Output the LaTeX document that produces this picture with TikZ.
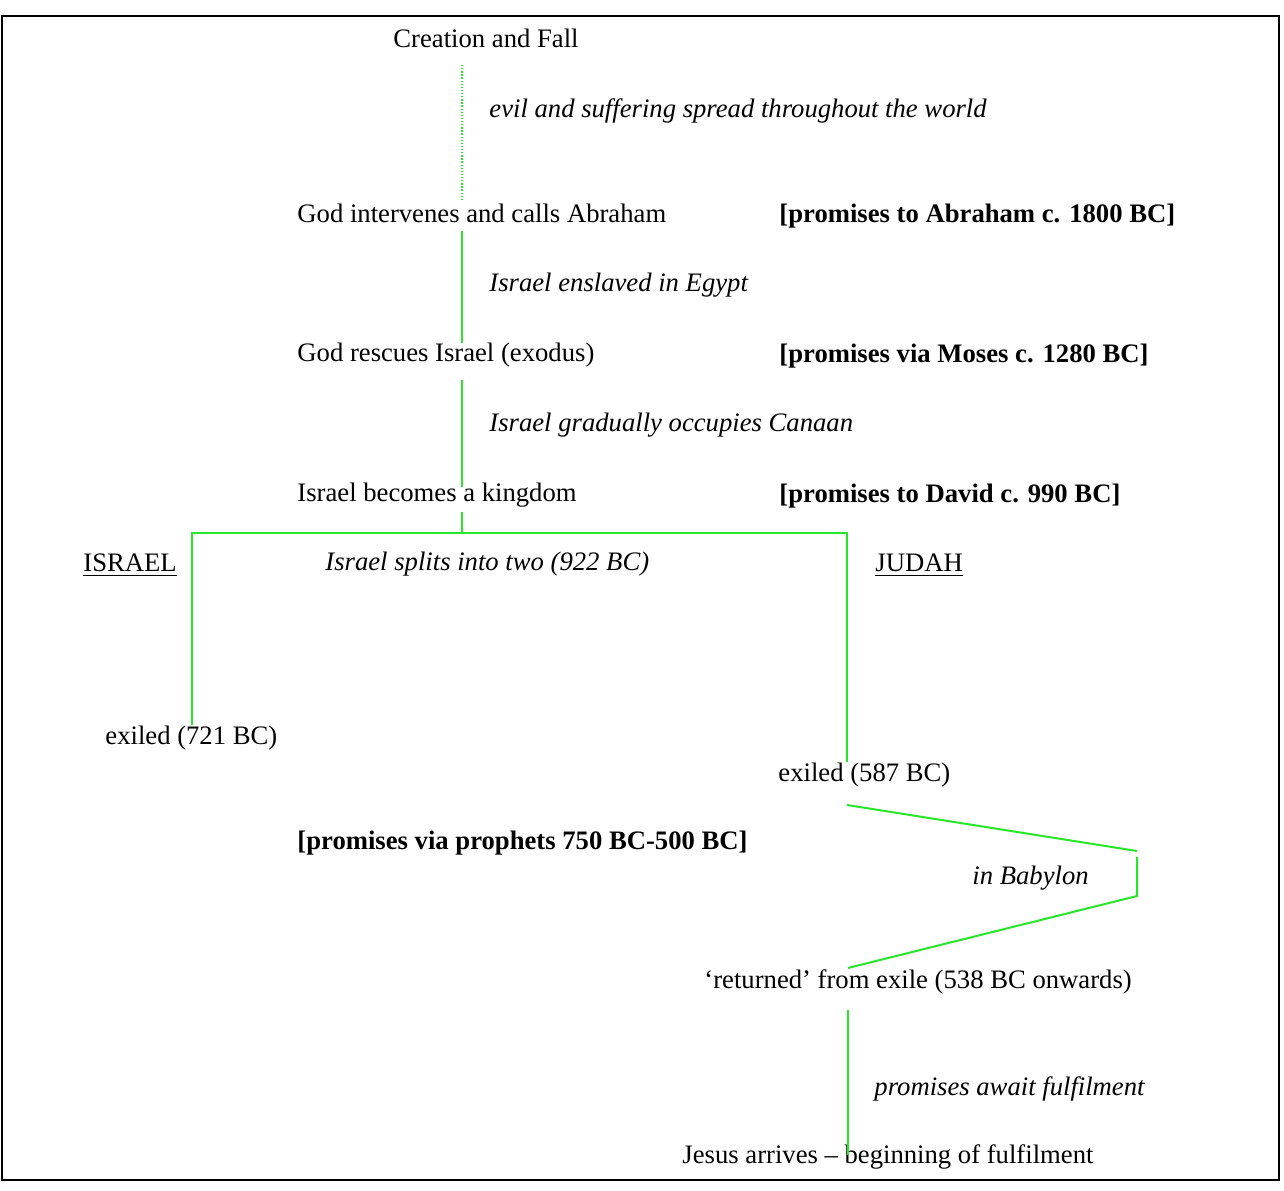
\documentclass[tikz,border=0pt]{standalone}
\usepackage{fontspec}
\setmainfont{Liberation Serif}
\usepackage{tikz}
\definecolor{linegreen}{RGB}{40,230,40}

\begin{document}
\begin{tikzpicture}[x=0.45pt,y=-0.45pt,
	txt/.style={anchor=base west, inner sep=0pt, font=\fontsize{12}{14}\selectfont},
	note/.style={txt, font=\fontsize{12}{14}\selectfont\itshape},
	prom/.style={txt, font=\fontsize{12}{14}\selectfont\bfseries},
	link/.style={draw=linegreen, line width=0.9pt}]
	%\draw[help lines] (0,0) grid[step=100] (1284,1191);
	\useasboundingbox (0,0) rectangle (1284,1191);
	\draw[line width=0.9pt] (2,16) rectangle (1279,1180);
	\node[txt] (fall) at (393,48) {Creation and Fall};
	\node[note] (evil) at (489,118) {evil and suffering spread throughout the world};
	\node[txt] (abraham) at (297,223) {God intervenes and calls Abraham};
	\node[prom] (pabraham) at (779,223) {[promises to Abraham c. 1800 BC]};
	\node[note] (egypt) at (489,292) {Israel enslaved in Egypt};
	\node[txt] (exodus) at (297,362) {God rescues Israel (exodus)};
	\node[prom] (pmoses) at (779,363) {[promises via Moses c. 1280 BC]};
	\node[note] (canaan) at (489,432) {Israel gradually occupies Canaan};
	\node[txt] (kingdom) at (297,502) {Israel becomes a kingdom};
	\node[prom] (pdavid) at (779,503) {[promises to David c. 990 BC]};
	\node[txt] (israel) at (83,572) {\underline{ISRAEL}};
	\node[note] (split) at (325,571) {Israel splits into two (922 BC)};
	\node[txt] (judah) at (875,572) {\underline{JUDAH}};
	\node[txt] (exnorth) at (105,745) {exiled (721 BC)};
	\node[txt] (exsouth) at (778,782) {exiled (587 BC)};
	\node[prom] (pprophets) at (297,850) {[promises via prophets 750 BC-500 BC]};
	\node[note] (babylon) at (972,885) {in Babylon};
	\node[txt] (return) at (704,989) {‘returned’ from exile (538 BC onwards)};
	\node[note] (await) at (874,1095) {promises await fulfilment};
	\node[txt] (jesus) at (682,1163) {Jesus arrives – beginning of fulfilment};
	% line ends
	\coordinate (f1) at (462,65);
	\coordinate (f2) at (462,200);
	\coordinate (a1) at (462,231);
	\coordinate (a2) at (462,343);
	\coordinate (b1) at (462,380);
	\coordinate (b2) at (462,487);
	\coordinate (c1) at (462,512);
	\coordinate (fork) at (462,533);
	\coordinate (forkW) at (192,533);
	\coordinate (forkE) at (847,533);
	\coordinate (endW) at (192,725);
	\coordinate (endE) at (847,762);
	\coordinate (bab1) at (847,805);
	\coordinate (bab2) at (1137,851);
	\coordinate (bab3) at (1137,857);
	\coordinate (bab4) at (1137,896);
	\coordinate (bab5) at (848,968);
	\coordinate (j1) at (848,1010);
	\coordinate (j2) at (848,1155);
	\draw[draw=linegreen, line width=0.6pt, dash pattern=on 0.6pt off 0.8pt] (f1)--(f2);
	\draw[link] (a1)--(a2);
	\draw[link] (b1)--(b2);
	\draw[link] (c1)--(fork);
	\draw[link] (endW)--(forkW)--(forkE)--(endE);
	\draw[link] (bab1)--(bab2);
	\draw[link] (bab3)--(bab4)--(bab5);
	\draw[link] (j1)--(j2);
\end{tikzpicture}
\end{document}
